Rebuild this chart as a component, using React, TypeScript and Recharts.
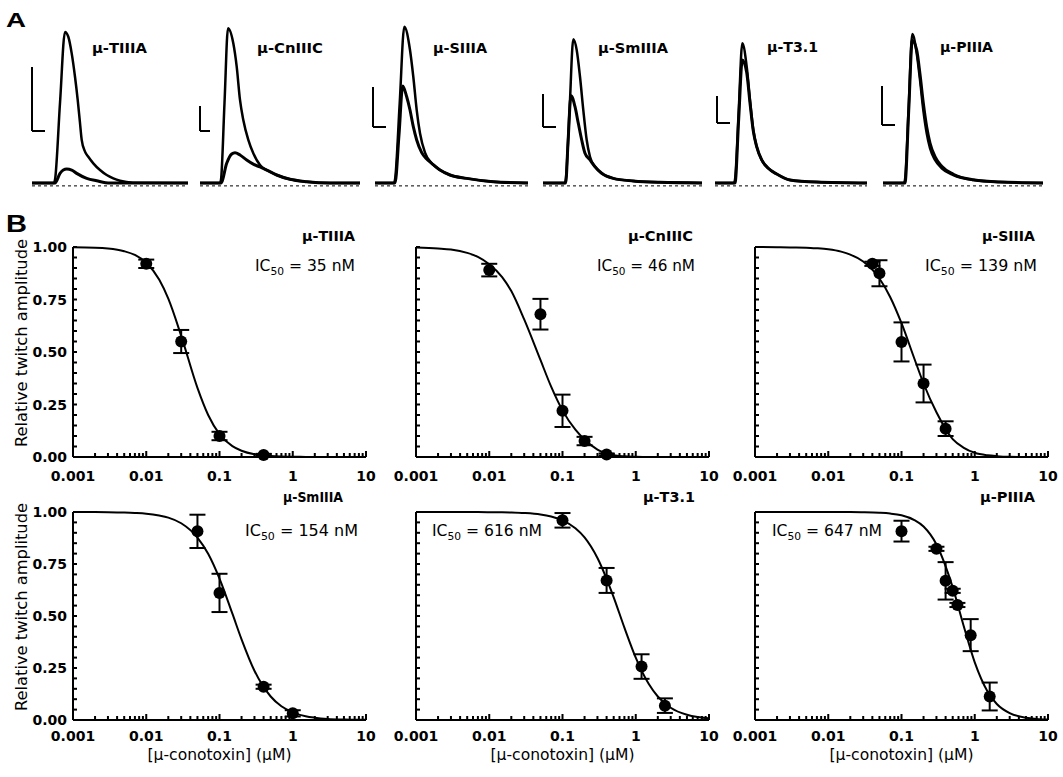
import React from 'react';
import { ComposedChart, Line, Scatter, ErrorBar, XAxis, YAxis, ReferenceLine } from 'recharts';

const FONT = '"DejaVu Sans", "Liberation Sans", Arial, sans-serif';

// ---------- panel A: twitch traces, [time (ms), amplitude rel. to control peak] ----------
const TIIIA_CTRL = [[0, 0], [22, 0], [23, 0.02], [28, 0.5], [33, 0.944], [36.3, 0.914], [39.7, 0.81], [43, 0.664], [45.7, 0.52], [48, 0.375], [49.7, 0.27], [53, 0.196], [56.3, 0.164], [61.3, 0.123], [68, 0.081], [74.7, 0.05], [81.3, 0.029], [88, 0.014], [101, 0.002], [156, 0]];
const TIIIA_TOX = [[0, 0], [23, 0], [28, 0.06], [31.3, 0.081], [34.7, 0.087], [39.7, 0.081], [44.7, 0.06], [54.7, 0.029], [64.7, 0.014], [78, 0], [156, 0]];
const CNIIIC_CTRL = [[0, 0], [20, 0], [21, 0.02], [24.5, 0.5], [28, 0.967], [33.3, 0.873], [36.7, 0.727], [40, 0.519], [43.3, 0.394], [48.3, 0.269], [53.3, 0.186], [60, 0.1125], [66.7, 0.081], [76.7, 0.05], [90, 0.023], [106.7, 0.008], [130, 0], [160, 0]];
const CNIIIC_TOX = [[0, 0], [21, 0], [26.7, 0.123], [31.7, 0.181], [35, 0.189], [40, 0.175], [46.7, 0.144], [53.3, 0.118], [60, 0.1], [66.7, 0.081], [76.7, 0.05], [90, 0.023], [106.7, 0.008], [130, 0], [160, 0]];
const SIIIA_CTRL = [[0, 0], [19, 0], [20, 0.02], [24.7, 0.5], [29.3, 0.977], [35, 0.831], [38.3, 0.664], [41.7, 0.456], [45, 0.311], [50, 0.19], [56.7, 0.123], [65, 0.081], [75, 0.05], [91.7, 0.029], [118.3, 0.008], [153, 0]];
const SIIIA_TOX = [[0, 0], [20, 0], [24, 0.3], [27.7, 0.606], [31.7, 0.539], [35, 0.456], [38.3, 0.352], [41.7, 0.269], [46.7, 0.19], [51.7, 0.15], [56.7, 0.123], [65, 0.081], [75, 0.05], [91.7, 0.029], [118.3, 0.008], [153, 0]];
const SMIIIA_CTRL = [[0, 0], [21.7, 0], [22.7, 0.02], [26.5, 0.45], [30.3, 0.898], [33.7, 0.831], [37, 0.664], [40.3, 0.456], [43.7, 0.269], [47, 0.164], [52, 0.102], [58.7, 0.061], [70.3, 0.029], [90.3, 0.0125], [117, 0.004], [159, 0]];
const SMIIIA_TOX = [[0, 0], [22.7, 0], [25, 0.25], [28, 0.546], [32, 0.477], [35.3, 0.373], [38.7, 0.269], [42, 0.186], [47, 0.144], [52, 0.102], [58.7, 0.061], [70.3, 0.029], [90.3, 0.0125], [117, 0.004], [159, 0]];
const T31_CTRL = [[0, 0], [19, 0], [20, 0.02], [23.7, 0.45], [27.3, 0.873], [31.7, 0.727], [35, 0.519], [38.3, 0.331], [41.7, 0.227], [46.7, 0.144], [53.3, 0.092], [61.7, 0.056], [75, 0.019], [101.7, 0.006], [152, 0]];
const T31_TOX = [[0, 0], [20, 0], [23.7, 0.4], [27.3, 0.769], [31.7, 0.69], [35, 0.5], [38.3, 0.325], [41.7, 0.227], [46.7, 0.144], [53.3, 0.092], [61.7, 0.056], [75, 0.019], [101.7, 0.006], [152, 0]];
const PIIIA_CTRL = [[0, 0], [21, 0], [22, 0.02], [25.7, 0.48], [29.3, 0.931], [33.7, 0.811], [37, 0.644], [40.3, 0.456], [43.7, 0.311], [47, 0.217], [52, 0.144], [58.7, 0.092], [70.3, 0.05], [90.3, 0.019], [117, 0.006], [160, 0]];
const PIIIA_TOX = [[0, 0], [22, 0], [25.7, 0.45], [29.3, 0.89], [33.7, 0.83], [37, 0.68], [40.3, 0.5], [43.7, 0.35], [47, 0.25], [52, 0.165], [58.7, 0.105], [70.3, 0.055], [90.3, 0.02], [117, 0.006], [160, 0]];

const TOXINS = ['μ-TIIIA', 'μ-CnIIIC', 'μ-SIIIA', 'μ-SmIIIA', 'μ-T3.1', 'μ-PIIIA'];
const IC50_NM = [35, 46, 139, 154, 616, 647];

// ---------- panel B: concentration-response ----------
const CURVE_X = [0.001, 0.002, 0.003, 0.005, 0.007, 0.01, 0.015, 0.02, 0.03, 0.05, 0.07, 0.1, 0.15, 0.2, 0.3, 0.5, 0.7, 1, 1.5, 2, 3, 5, 7, 10];
const TIIIA_FIT = [0.999, 0.997, 0.993, 0.98, 0.962, 0.925, 0.845, 0.754, 0.577, 0.329, 0.2, 0.109, 0.052, 0.03, 0.013, 0.005, 0.0025, 0.001, 0.0005, 0.0003, 0.0001, 0, 0, 0];
const CNIIIC_FIT = [0.998, 0.993, 0.988, 0.972, 0.953, 0.918, 0.857, 0.79, 0.655, 0.462, 0.335, 0.222, 0.13, 0.083, 0.035, 0.008, 0.003, 0.001, 0, 0, 0, 0, 0, 0];
const SIIIA_FIT = [1, 0.999, 0.998, 0.997, 0.994, 0.989, 0.978, 0.964, 0.931, 0.85, 0.762, 0.637, 0.468, 0.35, 0.213, 0.085, 0.045, 0.02, 0.008, 0.004, 0.001, 0, 0, 0];
const SMIIIA_FIT = [1, 0.9995, 0.999, 0.9975, 0.9955, 0.992, 0.983, 0.973, 0.946, 0.877, 0.799, 0.68, 0.511, 0.388, 0.237, 0.113, 0.066, 0.037, 0.018, 0.011, 0.005, 0.002, 0.001, 0.001];
const T31_FIT = [1, 1, 1, 1, 0.9996, 0.9993, 0.9985, 0.9975, 0.995, 0.988, 0.978, 0.96, 0.922, 0.878, 0.779, 0.59, 0.444, 0.3, 0.174, 0.113, 0.059, 0.025, 0.014, 0.008];
const PIIIA_FIT = [1, 1, 1, 1, 1, 1, 0.9998, 0.9995, 0.9988, 0.9964, 0.9926, 0.984, 0.961, 0.93, 0.844, 0.638, 0.457, 0.277, 0.136, 0.077, 0.033, 0.011, 0.005, 0.002];

// [concentration µM, relative amplitude, SEM]
const TIIIA_PTS = [[0.01, 0.92, 0.02], [0.03, 0.55, 0.055], [0.1, 0.1, 0.02], [0.4, 0.01, 0.005]];
const CNIIIC_PTS = [[0.01, 0.89, 0.03], [0.05, 0.68, 0.073], [0.1, 0.22, 0.077], [0.2, 0.076, 0.02], [0.4, 0.012, 0.005]];
const SIIIA_PTS = [[0.04, 0.92, 0.01], [0.05, 0.875, 0.062], [0.1, 0.548, 0.093], [0.2, 0.35, 0.09], [0.4, 0.135, 0.035]];
const SMIIIA_PTS = [[0.05, 0.907, 0.08], [0.1, 0.611, 0.092], [0.4, 0.16, 0.01], [1, 0.032, 0.015]];
const T31_PTS = [[0.1, 0.96, 0.035], [0.4, 0.671, 0.06], [1.2, 0.257, 0.059], [2.5, 0.069, 0.035]];
const PIIIA_PTS = [[0.1, 0.908, 0.05], [0.3, 0.823, 0.01], [0.4, 0.669, 0.09], [0.5, 0.621, 0.01], [0.58, 0.553, 0.01], [0.88, 0.408, 0.077], [1.6, 0.113, 0.067]];

const X_TICKS = [0.001, 0.002, 0.003, 0.004, 0.005, 0.006, 0.007, 0.008, 0.009, 0.01, 0.02, 0.03, 0.04, 0.05, 0.06, 0.07, 0.08, 0.09, 0.1, 0.2, 0.3, 0.4, 0.5, 0.6, 0.7, 0.8, 0.9, 1, 2, 3, 4, 5, 6, 7, 8, 9, 10];
const X_MAJOR = [0.001, 0.01, 0.1, 1, 10];
const Y_TICKS = [0, 0.05, 0.1, 0.15, 0.2, 0.25, 0.3, 0.35, 0.4, 0.45, 0.5, 0.55, 0.6, 0.65, 0.7, 0.75, 0.8, 0.85, 0.9, 0.95, 1];
const Y_MAJOR = [0, 0.25, 0.5, 0.75, 1];

// ---------- layout ----------
const TRACE_START = [32, 200, 375, 543, 715, 883];
const TRACE_END = [156, 160, 153, 159, 152, 160];
const SCALE_BARS = [
  { x: 0, top: 0.725, bottom: 0.325, len: 13 },
  { x: 0, top: 0.481, bottom: 0.325, len: 10 },
  { x: -2, top: 0.6, bottom: 0.35, len: 13 },
  { x: 0, top: 0.556, bottom: 0.35, len: 13 },
  { x: 2, top: 0.544, bottom: 0.375, len: 13 },
  { x: -1, top: 0.606, bottom: 0.3625, len: 13 },
];
const A_TITLE_POS = [
  { x: 92, y: 53, w: 55 }, { x: 257, y: 53, w: 66 }, { x: 433, y: 53, w: 54 },
  { x: 598, y: 53, w: 70 }, { x: 767, y: 52, w: 51 }, { x: 940, y: 52, w: 53 },
];
const PLOT_X = [73, 416, 755];
const PLOT_TOP = [247, 512];
const PLOT_H = [210, 208];
const TICK_DY = [24, 21];
const B_TITLE_POS = [
  { x: 302, y: 241, w: 53 }, { x: 628, y: 241, w: 65 }, { x: 982, y: 241, w: 53 },
  { x: 283, y: 502, w: 60 }, { x: 643, y: 502, w: 52 }, { x: 980, y: 502, w: 55 },
];
const IC50_POS = [
  { x: 255, y: 271, w: 100 }, { x: 597, y: 271, w: 98 }, { x: 925, y: 271, w: 112 },
  { x: 245, y: 536, w: 113 }, { x: 432, y: 536, w: 110 }, { x: 772, y: 536, w: 110 },
];

const TRACES = [
  [TIIIA_CTRL, TIIIA_TOX], [CNIIIC_CTRL, CNIIIC_TOX], [SIIIA_CTRL, SIIIA_TOX],
  [SMIIIA_CTRL, SMIIIA_TOX], [T31_CTRL, T31_TOX], [PIIIA_CTRL, PIIIA_TOX],
];
const FITS = [TIIIA_FIT, CNIIIC_FIT, SIIIA_FIT, SMIIIA_FIT, T31_FIT, PIIIA_FIT];
const POINTS = [TIIIA_PTS, CNIIIC_PTS, SIIIA_PTS, SMIIIA_PTS, T31_PTS, PIIIA_PTS];

const toTrace = (arr: number[][]) => arr.map(([t, v]) => ({ t, v }));

function TracePanel({ i }: { i: number }) {
  const [ctrl, tox] = TRACES[i];
  const bar = SCALE_BARS[i];
  const stroke = { stroke: '#000', strokeWidth: 2 };
  return (
    <div style={{ position: 'absolute', left: TRACE_START[i] - 5, top: 23 }}>
      <ComposedChart width={170} height={168} margin={{ top: 0, right: 0, bottom: 0, left: 0 }}>
        <XAxis type="number" dataKey="t" domain={[-5, 165]} hide />
        <YAxis type="number" domain={[-0.05, 1]} hide />
        <ReferenceLine segment={[{ x: 0, y: -0.018 }, { x: TRACE_END[i], y: -0.018 }]} stroke="#000" strokeWidth={1} strokeDasharray="3 3" />
        <ReferenceLine segment={[{ x: bar.x, y: bar.top }, { x: bar.x, y: bar.bottom }]} {...stroke} />
        <ReferenceLine segment={[{ x: bar.x, y: bar.bottom }, { x: bar.x + bar.len, y: bar.bottom }]} {...stroke} />
        <Line data={toTrace(tox)} dataKey="v" type="monotone" dot={false} stroke="#000" strokeWidth={3} isAnimationActive={false} />
        <Line data={toTrace(ctrl)} dataKey="v" type="monotone" dot={false} stroke="#000" strokeWidth={2.5} isAnimationActive={false} />
      </ComposedChart>
    </div>
  );
}

// axis tick labels only; the inward tick marks are drawn by the two tick-mark scatters below
const xTick = (dy: number) => (p: any) => {
  const v = Number(p.payload.value);
  if (!X_MAJOR.includes(v)) return <g />;
  return (
    <text x={p.x} y={p.y + dy} textAnchor="middle" fontFamily={FONT} fontWeight="bold" fontSize={14} fill="#000">
      {String(v)}
    </text>
  );
};

const yTick = (labels: boolean) => (p: any) => {
  const v = Number(p.payload.value);
  if (!labels || !Y_MAJOR.includes(v)) return <g />;
  return (
    <text x={p.x - 6} y={p.y + 5} textAnchor="end" fontFamily={FONT} fontWeight="bold" fontSize={14} fill="#000">
      {v.toFixed(2)}
    </text>
  );
};

const Dot = (p: any) => <circle cx={p.cx} cy={p.cy} r={6} fill="#000" />;
const XMark = (p: any) => {
  const h = p.payload.major ? 6 : 4;
  return <rect x={p.cx - 1} y={p.cy - h} width={2} height={h} fill="#000" />;
};
const YMark = (p: any) => <rect x={p.cx} y={p.cy - 1} width={4} height={2} fill="#000" />;

const X_MARKS = X_TICKS.map((x) => ({ x, y: 0, major: X_MAJOR.includes(x) }));
const Y_MARKS = Y_TICKS.map((y) => ({ x: 0.001, y }));

function DosePanel({ i }: { i: number }) {
  const row = Math.floor(i / 3);
  const col = i % 3;
  const YW = 60, MT = 8, MR = 14, XH = 34, W = 293;
  const curve = CURVE_X.map((x, k) => ({ x, y: FITS[i][k] }));
  const pts = POINTS[i].map(([x, y, err]) => ({ x, y, err }));
  const axisLine = { stroke: '#000', strokeWidth: 2 };
  return (
    <div style={{ position: 'absolute', left: PLOT_X[col] - YW, top: PLOT_TOP[row] - MT }}>
      <ComposedChart width={YW + W + MR} height={MT + PLOT_H[row] + XH} margin={{ top: MT, right: MR, bottom: 0, left: 0 }}>
        <XAxis type="number" dataKey="x" scale="log" domain={[0.001, 10]} ticks={X_MAJOR} interval={0}
          height={XH} tickSize={0} tickMargin={0} tickLine={false} axisLine={axisLine} tick={xTick(TICK_DY[row])} />
        <YAxis type="number" domain={[0, 1]} ticks={Y_MAJOR} interval={0} width={YW}
          tickSize={0} tickMargin={0} tickLine={false} axisLine={axisLine} tick={yTick(col === 0)} />
        <Scatter data={X_MARKS} dataKey="y" shape={XMark} isAnimationActive={false} />
        <Scatter data={Y_MARKS} dataKey="y" shape={YMark} isAnimationActive={false} />
        <Line data={curve} dataKey="y" type="monotone" dot={false} stroke="#000" strokeWidth={2} isAnimationActive={false} />
        <Scatter data={pts} dataKey="y" shape={Dot} isAnimationActive={false}>
          <ErrorBar dataKey="err" direction="y" width={8} stroke="#000" strokeWidth={2} />
        </Scatter>
      </ComposedChart>
    </div>
  );
}

const Txt = ({ x, y, w, size, bold, family, children }: any) => (
  <text x={x} y={y} fontSize={size} fontWeight={bold ? 'bold' : 'normal'} fontFamily={family || FONT}
    textLength={w} lengthAdjust="spacingAndGlyphs" fill="#000">
    {children}
  </text>
);

function Annotations() {
  const xLabelY = 760;
  const arial = '"Liberation Sans", Arial, sans-serif';
  return (
    <svg width={1063} height={777} style={{ position: 'absolute', left: 0, top: 0, pointerEvents: 'none' }}>
      <Txt x={6} y={27} w={20} size={20} bold family={arial}>A</Txt>
      <Txt x={6} y={232} w={21} size={23} bold family={arial}>B</Txt>
      {TOXINS.map((name, i) => (
        <Txt key={'a' + i} {...A_TITLE_POS[i]} size={14} bold>{name}</Txt>
      ))}
      {TOXINS.map((name, i) => (
        <Txt key={'b' + i} {...B_TITLE_POS[i]} size={14} bold>{name}</Txt>
      ))}
      {IC50_NM.map((v, i) => (
        <Txt key={'ic' + i} {...IC50_POS[i]} size={16}>
          IC<tspan fontSize={11} dy={4}>50</tspan>
          <tspan dy={-4}>{` = ${v} nM`}</tspan>
        </Txt>
      ))}
      {PLOT_TOP.map((top, r) => {
        const cy = top + PLOT_H[r] / 2 - 9;
        return (
          <text key={'yl' + r} x={27} y={cy} transform={`rotate(-90 27 ${cy})`} textAnchor="middle"
            fontFamily={FONT} fontSize={16} textLength={208} lengthAdjust="spacingAndGlyphs" fill="#000">
            Relative twitch amplitude
          </text>
        );
      })}
      {PLOT_X.map((x, c) => (
        <text key={'xl' + c} x={x + 146.5} y={xLabelY} textAnchor="middle" fontFamily={FONT} fontSize={15}
          textLength={144} lengthAdjust="spacingAndGlyphs" fill="#000">
          [μ-conotoxin] (μM)
        </text>
      ))}
    </svg>
  );
}

export default function App() {
  return (
    <div style={{ position: 'absolute', left: 0, top: 0, width: 1063, height: 777, background: '#fff', overflow: 'hidden' }}>
      {TOXINS.map((_, i) => <TracePanel key={'t' + i} i={i} />)}
      {TOXINS.map((_, i) => <DosePanel key={'d' + i} i={i} />)}
      <Annotations />
    </div>
  );
}
